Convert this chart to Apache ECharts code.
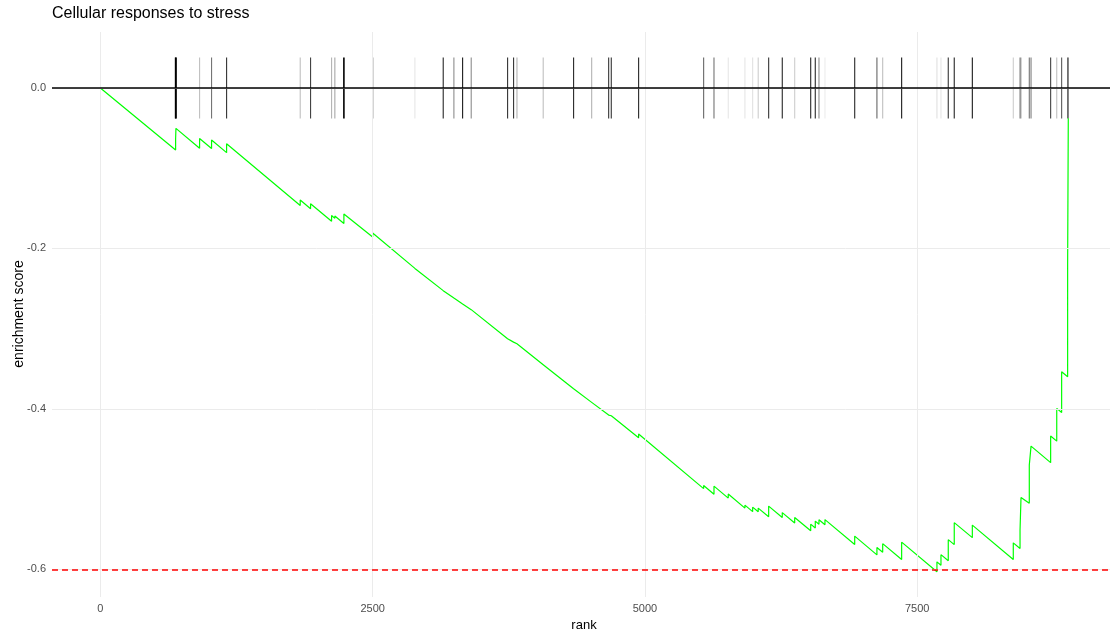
<!DOCTYPE html>
<html>
<head>
<meta charset="utf-8">
<script src="https://cdn.jsdelivr.net/npm/echarts@6/dist/echarts.min.js"></script>
<style>
html,body{margin:0;padding:0;background:#fff;}
#chart{width:1110px;height:638px;}
</style>
</head>
<body>
<div id="chart"></div>
<script>
// ---- data ----
const titleText = 'Cellular responses to stress';
const xTicks = [0, 2500, 5000, 7500];
const yTicks = [0, -0.2, -0.4, -0.6];

// running enrichment score vertices (rank, score) : before / after each hit
const curveRank = [0,
  691,691,694,694,911,911,1021,1021,1159,1159,1835,1835,1930,1930,2123,2123,2153,2153,2236,2236,
  2500,2500,2888,2888,3148,3148,3246,3246,3326,3326,3405,3405,3739,3739,3794,3794,3825,3825,
  4066,4066,4345,4345,4511,4511,4667,4667,4691,4691,4942,4942,5539,5539,5634,5634,5765,5765,
  5918,5918,5989,5989,6040,6040,6136,6136,6261,6261,6375,6375,6522,6522,6564,6564,6598,6598,
  6653,6653,6926,6926,7130,7130,7183,7183,7357,7357,7681,7681,7718,7718,7785,7785,7840,7840,
  8006,8006,8382,8382,8444,8444,8453,8453,8529,8529,8545,8545,8725,8725,8781,8781,8826,8826,
  8881,8881,8887,8887];
const curveES = [0,
  -0.0773,-0.0630,-0.0633,-0.0503,-0.0751,-0.0630,-0.0754,-0.0648,-0.0806,-0.0695,-0.1464,-0.1397,
  -0.1505,-0.1443,-0.1662,-0.1590,-0.1625,-0.1596,-0.1690,-0.1571,
  -0.1858,-0.1808,-0.2249,-0.2230,-0.2526,-0.2508,-0.2619,-0.2601,-0.2692,-0.2673,-0.2763,-0.2745,
  -0.3125,-0.3106,-0.3168,-0.3153,-0.3188,-0.3176,
  -0.3450,-0.3432,-0.3749,-0.3731,-0.3919,-0.3900,-0.4077,-0.4059,-0.4086,-0.4074,-0.4360,-0.4314,
  -0.4994,-0.4956,-0.5064,-0.4963,-0.5112,-0.5062,
  -0.5237,-0.5200,-0.5281,-0.5225,-0.5283,-0.5237,-0.5345,-0.5212,-0.5354,-0.5293,-0.5423,-0.5353,
  -0.5520,-0.5437,-0.5485,-0.5399,-0.5438,-0.5383,
  -0.5445,-0.5380,-0.5690,-0.5586,-0.5820,-0.5727,-0.5787,-0.5680,-0.5878,-0.5661,-0.6030,-0.5907,
  -0.5949,-0.5817,-0.5893,-0.5630,-0.5692,-0.5418,
  -0.5605,-0.5449,-0.5877,-0.5670,-0.5740,-0.5511,-0.5524,-0.5104,-0.5177,-0.4701,-0.4718,-0.4464,
  -0.4670,-0.4339,-0.4402,-0.3994,-0.4046,-0.3537,
  -0.3600,-0.2207,-0.2213,-0.0378];

// gene-set hit positions and tick shading
const hitRank = [691,694,911,1021,1159,1835,1930,2123,2153,2236,2500,2888,3148,3246,3326,3405,
  3739,3794,3825,4066,4345,4511,4667,4691,4942,5539,5634,5765,5918,5989,6040,6136,6261,6375,
  6522,6564,6598,6653,6926,7130,7183,7357,7681,7718,7785,7840,8006,8382,8444,8453,8529,8545,
  8725,8781,8826,8881,8887];
const hitAlpha = [1.0,1.0,0.25,0.55,0.8,0.25,0.75,0.3,0.35,1.0,0.85,0.1,0.85,0.45,0.9,0.45,
  0.8,0.8,0.3,0.25,0.85,0.3,0.8,0.8,0.85,0.6,0.55,0.1,0.1,0.12,0.2,0.8,0.85,0.2,
  0.85,0.85,0.45,0.08,0.85,0.6,0.25,0.9,0.12,0.1,0.8,0.85,0.9,0.2,0.5,0.3,0.55,0.5,
  0.75,0.25,0.65,0.55,0.5];
const tickHalf = 0.038;

// ---- build chart ----
const FONT = '"Liberation Sans", Arial, sans-serif';
const curve = curveRank.map((r, i) => [r, curveES[i]]);
const hits = hitRank.map((r, i) => [r, hitAlpha[i]]);
const esMin = Math.min.apply(null, curveES);

const chart = echarts.init(document.getElementById('chart'), null, {renderer: 'canvas'});
chart.setOption({
  animation: false,
  backgroundColor: '#ffffff',
  grid: {left: 52, right: 0, top: 32, bottom: 41, containLabel: false},
  xAxis: {
    type: 'value', min: -444, max: 9270,
    axisLine: {show: false},
    axisTick: {show: true, customValues: xTicks, length: 3, lineStyle: {color: '#333333', width: 1}},
    axisLabel: {customValues: xTicks, color: '#4D4D4D', fontSize: 11, margin: 6, fontFamily: FONT,
      formatter: v => String(Math.round(v))},
    splitLine: {show: false}
  },
  yAxis: {
    type: 'value', min: -0.6345, max: 0.0698,
    axisLine: {show: false},
    axisTick: {show: true, customValues: yTicks, length: 3, lineStyle: {color: '#333333', width: 1}},
    axisLabel: {customValues: yTicks, color: '#4D4D4D', fontSize: 11, margin: 6, fontFamily: FONT,
      formatter: v => Number(v).toFixed(1)},
    splitLine: {show: false}
  },
  graphic: [
    {type: 'text', left: 52, top: 6, style: {text: titleText, fontSize: 16, fill: '#000', fontFamily: FONT}},
    {type: 'text', x: 584, y: 625, style: {text: 'rank', fontSize: 13, fill: '#000', fontFamily: FONT,
      align: 'center', verticalAlign: 'middle'}},
    {type: 'text', x: 19, y: 314, rotation: Math.PI / 2, style: {text: 'enrichment score', fontSize: 14,
      fill: '#000', fontFamily: FONT, align: 'center', verticalAlign: 'middle'}}
  ],
  series: [
    {
      type: 'line', data: [], z: 1, silent: true,
      markLine: {
        silent: true, symbol: 'none', animation: false,
        label: {show: false},
        lineStyle: {color: '#EBEBEB', width: 1, type: 'solid'},
        data: xTicks.map(v => ({xAxis: v})).concat(yTicks.map(v => ({yAxis: v})))
      }
    },
    {
      type: 'custom', z: 2, silent: true,
      data: hits,
      renderItem: function (params, api) {
        const x = api.value(0);
        const a = api.value(1);
        const p1 = api.coord([x, tickHalf]);
        const p2 = api.coord([x, -tickHalf]);
        return {type: 'line', shape: {x1: p1[0], y1: p1[1], x2: p2[0], y2: p2[1]},
          style: {stroke: '#000000', lineWidth: a >= 1 ? 1.6 : 1.1, opacity: a}};
      }
    },
    {
      type: 'line', data: [], z: 3, silent: true,
      markLine: {
        silent: true, symbol: 'none', animation: false,
        label: {show: false},
        data: [
          {yAxis: 0, lineStyle: {color: '#000000', width: 1.6, type: 'solid'}},
          {yAxis: esMin, lineStyle: {color: '#FF0000', width: 1.5, type: [6, 4]}}
        ]
      }
    },
    {
      type: 'line', z: 4, data: curve, showSymbol: false, silent: true,
      lineStyle: {color: '#00FF00', width: 1.2}
    }
  ]
});
</script>
</body>
</html>
